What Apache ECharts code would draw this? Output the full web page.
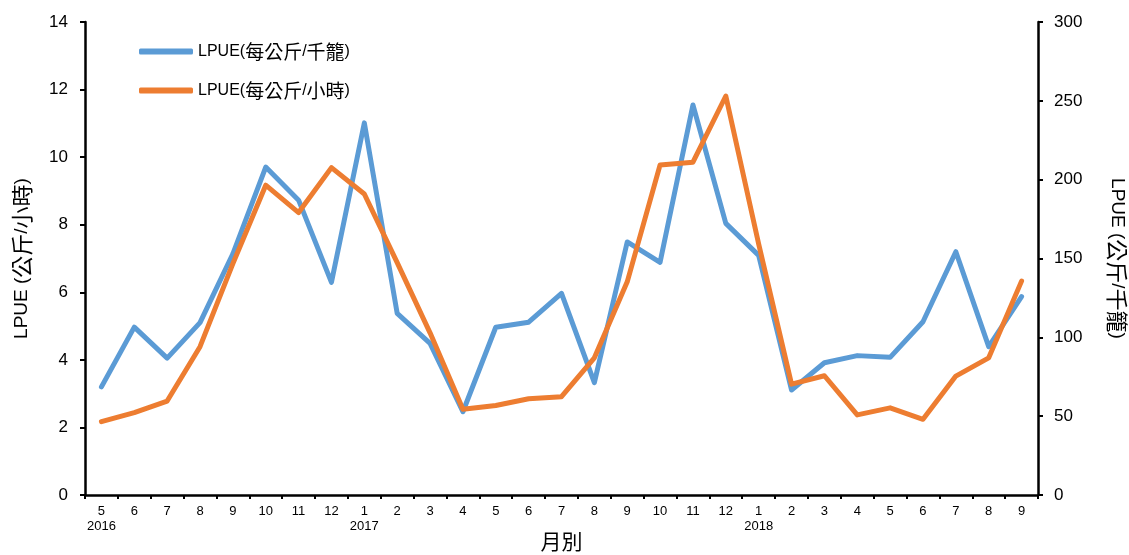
<!DOCTYPE html>
<html>
<head>
<meta charset="utf-8">
<script src="https://cdn.jsdelivr.net/npm/echarts@6/dist/echarts.min.js"></script>
<style>
html,body{margin:0;padding:0;background:#fff;}
#chart{width:1129px;height:555px;}
</style>
</head>
<body>
<div id="chart"></div>
<script>
var months = ['5','6','7','8','9','10','11','12','1','2','3','4','5','6','7','8','9','10','11','12','1','2','3','4','5','6','7','8','9'];
var years  = ['2016','','','','','','','','2017','','','','','','','','','','','','2018','','','','','','','',''];
var leftTicks = [0, 14, 2];
var rightTicks = [0, 300, 50];
// LPUE (kg / 1000 traps) - right axis
var lpueTrap = [68.6,106.5,86.8,109.3,153.0,208.0,187.0,134.9,236.0,115.2,96.2,52.8,106.4,109.6,127.9,71.3,160.5,147.6,247.4,172.3,152.0,66.6,83.9,88.4,87.3,109.9,154.3,94.1,125.8];
// LPUE (kg / hour) - left axis
var lpueHour = [2.17,2.44,2.78,4.39,6.85,9.17,8.36,9.69,8.91,6.88,4.80,2.54,2.65,2.85,2.91,4.06,6.31,9.77,9.85,11.81,7.43,3.28,3.53,2.37,2.58,2.24,3.52,4.06,6.33];
var seriesNames = ['LPUE(每公斤/千籠)', 'LPUE(每公斤/小時)'];
var legendRich = ['{a|LPUE(}{b|每公斤}{a|/}{b|千籠}{a|)}', '{a|LPUE(}{b|每公斤}{a|/}{b|小時}{a|)}'];

var font = '"Liberation Sans", Arial, "Noto Sans CJK TC", sans-serif';
var cjk = '"Noto Sans CJK TC", sans-serif';
var chart = echarts.init(document.getElementById('chart'), null, {renderer: 'canvas'});
var axisLine = {show: true, onZero: false, lineStyle: {color: '#000', width: 2.5}};
var axisTick = {show: true, inside: false, length: 5, lineStyle: {color: '#000', width: 2}};
var nameRich = {
  a: {fontSize: 19, fontFamily: font, color: '#000'},
  b: {fontSize: 22, fontFamily: cjk, color: '#000'}
};
chart.setOption({
  backgroundColor: '#fff',
  animation: false,
  textStyle: {fontFamily: font, color: '#000'},
  grid: {left: 85, right: 91, top: 22, bottom: 60, containLabel: false, outerBoundsMode: 'none'},
  legend: {
    orient: 'vertical', left: 134, top: 37, itemGap: 20,
    itemWidth: 54, itemHeight: 6, icon: 'roundRect',
    textStyle: {fontSize: 16, color: '#000', fontFamily: font,
      rich: {a: {fontSize: 16, fontFamily: font, color: '#000'}, b: {fontSize: 19, fontFamily: cjk, color: '#000'}}},
    formatter: function (n) { return legendRich[seriesNames.indexOf(n)]; },
    data: seriesNames
  },
  xAxis: {
    type: 'category', data: months, boundaryGap: true,
    axisLine: axisLine,
    axisTick: {show: true, interval: 0, length: 4, lineStyle: {color: '#000', width: 2}},
    axisLabel: {
      interval: 0, margin: 9, fontSize: 13, color: '#000', lineHeight: 15, fontFamily: font,
      formatter: function (v, i) { return years[i] ? v + '\n' + years[i] : v; }
    },
    name: '月別', nameLocation: 'middle', nameGap: 36, nameMoveOverlap: false,
    nameTextStyle: {fontSize: 21, color: '#000', fontFamily: cjk},
    splitLine: {show: false}
  },
  yAxis: [
    {
      type: 'value', position: 'left', min: leftTicks[0], max: leftTicks[1], interval: leftTicks[2],
      axisLine: axisLine, axisTick: axisTick,
      axisLabel: {fontSize: 17, color: '#000', margin: 17, fontFamily: font},
      splitLine: {show: false},
      name: '{a|LPUE (}{b|公斤}{a|/}{b|小時}{a|)}', nameLocation: 'middle', nameGap: 52, nameRotate: 90,
      nameTextStyle: {fontSize: 19, color: '#000', fontFamily: font, rich: nameRich}
    },
    {
      type: 'value', position: 'right', min: rightTicks[0], max: rightTicks[1], interval: rightTicks[2],
      axisLine: axisLine, axisTick: axisTick,
      axisLabel: {fontSize: 17, color: '#000', margin: 16, fontFamily: font},
      splitLine: {show: false},
      name: '{a|LPUE (}{b|公斤}{a|/}{b|千籠}{a|)}', nameLocation: 'middle', nameGap: 68, nameRotate: -90,
      nameTextStyle: {fontSize: 19, color: '#000', fontFamily: font, rich: nameRich}
    }
  ],
  series: [
    {
      name: seriesNames[0], type: 'line', yAxisIndex: 1, data: lpueTrap,
      showSymbol: false, symbol: 'none', smooth: false,
      lineStyle: {color: '#5B9BD5', width: 5, join: 'round', cap: 'round'},
      itemStyle: {color: '#5B9BD5'}, z: 2
    },
    {
      name: seriesNames[1], type: 'line', yAxisIndex: 0, data: lpueHour,
      showSymbol: false, symbol: 'none', smooth: false,
      lineStyle: {color: '#ED7D31', width: 5, join: 'round', cap: 'round'},
      itemStyle: {color: '#ED7D31'}, z: 3
    }
  ]
});
</script>
</body>
</html>
